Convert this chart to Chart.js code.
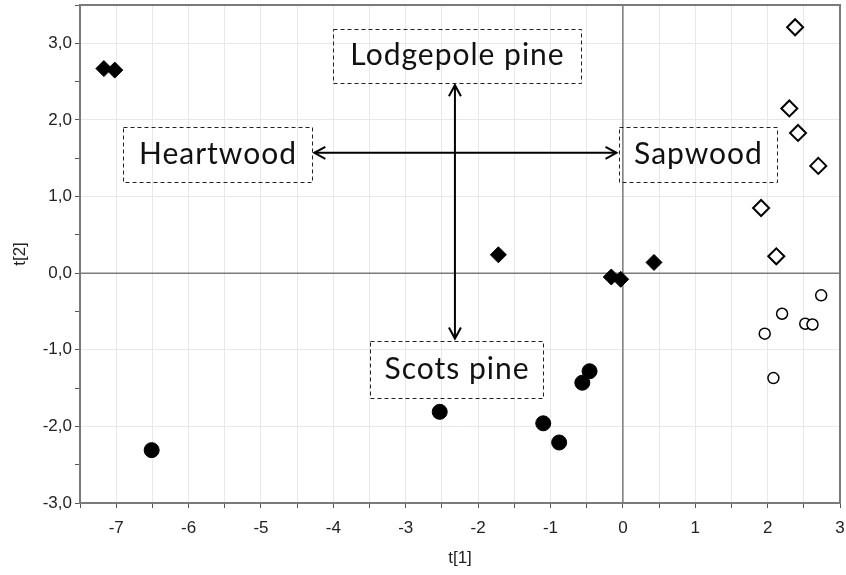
<!DOCTYPE html>
<html>
<head>
<meta charset="utf-8">
<script src="https://cdn.jsdelivr.net/npm/chart.js@4.4.1/dist/chart.umd.min.js"></script>
<style>
  html, body { margin: 0; padding: 0; background: #fff; }
  #wrap { width: 846px; height: 575px; }
</style>
</head>
<body>
<div id="wrap"><canvas id="myChart" width="846" height="575"></canvas></div>
<script>
// score plot data, t[1] / t[2]
const lodgeHeartX = [-7.17, -7.02, -1.72, -0.16, -0.03, 0.43];
const lodgeHeartY = [2.67, 2.65, 0.24, -0.05, -0.08, 0.14];
const lodgeSapX = [2.38, 2.30, 2.42, 2.70, 1.91, 2.12];
const lodgeSapY = [3.21, 2.15, 1.83, 1.40, 0.85, 0.22];
const scotsHeartX = [-6.51, -2.53, -1.10, -0.88, -0.56, -0.46];
const scotsHeartY = [-2.31, -1.81, -1.96, -2.21, -1.43, -1.28];
const scotsSapX = [2.20, 1.96, 2.52, 2.62, 2.08, 2.74];
const scotsSapY = [-0.53, -0.79, -0.66, -0.67, -1.37, -0.29];

// annotation boxes (data units: x1, x2, y1, y2)
const boxLabels = ['Heartwood', 'Lodgepole pine', 'Sapwood', 'Scots pine'];
const boxX1 = [-6.90, -4.00, -0.06, -3.49];
const boxX2 = [-4.29, -0.58, 2.13, -1.10];
const boxY1 = [1.91, 3.19, 1.91, -0.88];
const boxY2 = [1.19, 2.48, 1.19, -1.63];

function pts(xs, ys) {
  return xs.map((x, i) => ({ x: x, y: ys[i] }));
}

const ctx = document.getElementById('myChart');
const tickFont = { family: '"Liberation Sans", Arial', size: 17 };

const annotations = {
  id: 'annotations',
  afterDatasetsDraw(chart) {
    const c = chart.ctx;
    const sx = chart.scales.x, sy = chart.scales.y;
    c.save();
    // dashed boxes + labels
    c.lineWidth = 1;
    c.strokeStyle = '#222';
    c.setLineDash([4, 3]);
    c.font = '30px Lato, "Open Sans", sans-serif';
    c.letterSpacing = '1px';
    c.fillStyle = '#111';
    c.textAlign = 'center';
    c.textBaseline = 'middle';
    for (let i = 0; i < boxLabels.length; i++) {
      const x1 = Math.round(sx.getPixelForValue(boxX1[i])) + 0.5;
      const x2 = Math.round(sx.getPixelForValue(boxX2[i])) + 0.5;
      const y1 = Math.round(sy.getPixelForValue(boxY1[i])) + 0.5;
      const y2 = Math.round(sy.getPixelForValue(boxY2[i])) + 0.5;
      c.strokeRect(x1, y1, x2 - x1, y2 - y1);
      c.fillText(boxLabels[i], (x1 + x2) / 2, (y1 + y2) / 2 - 1);
    }
    c.setLineDash([]);
    // double arrows
    c.lineWidth = 2;
    c.strokeStyle = '#000';
    function arrowHead(xa, ya, dx, dy) {
      const L = 11, W = 6;
      c.beginPath();
      c.moveTo(xa + dx * L + dy * W, ya + dy * L + dx * W);
      c.lineTo(xa, ya);
      c.lineTo(xa + dx * L - dy * W, ya + dy * L - dx * W);
      c.stroke();
    }
    const hy = sy.getPixelForValue(1.57);
    const hx1 = sx.getPixelForValue(-4.29) + 2, hx2 = sx.getPixelForValue(-0.06) - 2;
    c.beginPath(); c.moveTo(hx1, hy); c.lineTo(hx2, hy); c.stroke();
    arrowHead(hx1, hy, 1, 0);
    arrowHead(hx2, hy, -1, 0);
    const vx = sx.getPixelForValue(-2.32);
    const vy1 = sy.getPixelForValue(2.48) + 2, vy2 = sy.getPixelForValue(-0.88) - 2;
    c.beginPath(); c.moveTo(vx, vy1); c.lineTo(vx, vy2); c.stroke();
    arrowHead(vx, vy1, 0, 1);
    arrowHead(vx, vy2, 0, -1);
    c.restore();
  },
  beforeDatasetsDraw(chart) {
    // frame and zero lines
    const c = chart.ctx, a = chart.chartArea;
    const sx = chart.scales.x, sy = chart.scales.y;
    c.save();
    c.strokeStyle = '#7a7a7a';
    c.lineWidth = 2;
    c.strokeRect(a.left, a.top, a.right - a.left, a.bottom - a.top);
    c.lineWidth = 1.5;
    const x0 = sx.getPixelForValue(0), y0 = sy.getPixelForValue(0);
    c.beginPath();
    c.moveTo(x0, a.top); c.lineTo(x0, a.bottom);
    c.moveTo(a.left, y0); c.lineTo(a.right, y0);
    c.stroke();
    c.restore();
  }
};

new Chart(ctx, {
  type: 'scatter',
  data: {
    datasets: [
      { label: 'Lodgepole heartwood', data: pts(lodgeHeartX, lodgeHeartY),
        pointStyle: 'rectRot', radius: 8, backgroundColor: '#000', borderColor: '#000', borderWidth: 1 },
      { label: 'Lodgepole sapwood', data: pts(lodgeSapX, lodgeSapY),
        pointStyle: 'rectRot', radius: 8, backgroundColor: '#fff', borderColor: '#000', borderWidth: 2 },
      { label: 'Scots heartwood', data: pts(scotsHeartX, scotsHeartY),
        pointStyle: 'circle', radius: 7.5, backgroundColor: '#000', borderColor: '#000', borderWidth: 1 },
      { label: 'Scots sapwood', data: pts(scotsSapX, scotsSapY),
        pointStyle: 'circle', radius: 5.5, backgroundColor: '#fff', borderColor: '#000', borderWidth: 1.5 }
    ]
  },
  options: {
    responsive: false,
    animation: false,
    layout: { autoPadding: false, padding: { left: 0, top: 5, right: 6, bottom: 0 } },
    plugins: { legend: { display: false }, tooltip: { enabled: false } },
    scales: {
      x: {
        type: 'linear', min: -7.5, max: 3,
        afterFit(s) { s.height = 72; s.paddingLeft = 0; s.paddingRight = 0; },
        ticks: {
          stepSize: 0.5, autoSkip: false, maxRotation: 0, padding: 10,
          color: '#222', font: tickFont,
          callback: v => Number.isInteger(v) ? String(v) : ''
        },
        grid: { color: '#e8e8e8', tickColor: '#555', tickLength: 5 },
        border: { color: '#666', width: 2 },
        title: { display: true, text: 't[1]', color: '#222', padding: { top: 4, bottom: 6 },
          font: tickFont }
      },
      y: {
        type: 'linear', min: -3, max: 3.5,
        afterFit(s) { s.width = 80; s.paddingTop = 0; s.paddingBottom = 0; },
        ticks: {
          stepSize: 0.5, autoSkip: false,
          color: '#222', font: tickFont,
          callback: v => Number.isInteger(v) ? v.toFixed(1).replace('.', ',') : ''
        },
        grid: {
          color: c => Number.isInteger(c.tick.value) ? '#e8e8e8' : 'rgba(0,0,0,0)',
          tickColor: '#555', tickLength: 5
        },
        border: { color: '#666', width: 2 },
        title: { display: true, text: 't[2]', color: '#222', padding: { top: 10, bottom: 4 },
          font: tickFont }
      }
    }
  },
  plugins: [annotations]
});
</script>
</body>
</html>
